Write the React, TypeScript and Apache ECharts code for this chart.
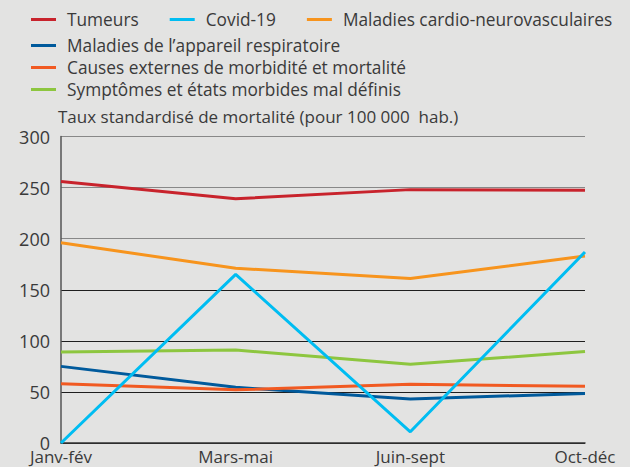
import React, { useEffect, useRef } from "react";
import * as echarts from "echarts";

const categories = ["Janv-fév", "Mars-mai", "Juin-sept", "Oct-déc"];
const seriesNames = [
  "Tumeurs",
  "Covid-19",
  "Maladies cardio-neurovasculaires",
  "Maladies de l’appareil respiratoire",
  "Causes externes de morbidité et mortalité",
  "Symptômes et états morbides mal définis",
];
const tumeurs = [256, 239, 248, 247.5];
const covid = [0, 165, 11, 187];
const cardio = [196, 171, 161, 183];
const respiratoire = [75, 54.5, 43, 48.5];
const causesExternes = [58, 52, 57.5, 55.5];
const symptomes = [89, 91, 77, 89.5];
const seriesValues = [tumeurs, covid, cardio, respiratoire, causesExternes, symptomes];
const colors = ["#c8232c", "#00bdf2", "#f7941d", "#005a9c", "#f15a22", "#8dc63f"];
const yAxisTitle = "Taux standardisé de mortalité (pour 100 000  hab.)";

const FONT = "'Open Sans', sans-serif";
const TEXT = "#3a3a3a";

export default function App() {
  const ref = useRef<HTMLDivElement>(null);
  useEffect(() => {
    if (!ref.current) return;
    const chart = echarts.init(ref.current, undefined, { renderer: "svg" });
    const legendBase = {
      orient: "horizontal" as const,
      left: 31,
      itemWidth: 25,
      itemHeight: 3,
      itemGap: 31,
      icon: "rect",
      textStyle: { fontFamily: FONT, fontSize: 17.3, color: TEXT, padding: [0, 0, 0, 6] },
      padding: 0,
    };
    chart.setOption({
      animation: false,
      backgroundColor: "#e3e3e2",
      textStyle: { fontFamily: FONT },
      legend: [
        { ...legendBase, top: 11, data: seriesNames.slice(0, 3) },
        { ...legendBase, top: 37, data: [seriesNames[3]] },
        { ...legendBase, top: 59, data: [seriesNames[4]] },
        { ...legendBase, top: 81, data: [seriesNames[5]] },
      ],
      graphic: [
        {
          type: "text",
          left: 58,
          top: 108,
          style: { text: yAxisTitle, fontFamily: FONT, fontSize: 17, fill: TEXT },
        },
      ],
      grid: { left: 61, right: 45, top: 136.5, bottom: 24, containLabel: false },
      xAxis: {
        type: "category",
        data: categories,
        boundaryGap: false,
        axisLine: { show: true, lineStyle: { color: "#333", width: 1.5 } },
        axisTick: { show: false },
        axisLabel: { fontFamily: FONT, fontSize: 17, color: TEXT, margin: 5, lineHeight: 17 },
        splitLine: { show: false },
      },
      yAxis: {
        type: "value",
        min: 0,
        max: 300,
        interval: 50,
        axisLine: { show: true, lineStyle: { color: "#555", width: 1.5 } },
        axisTick: { show: false },
        axisLabel: { fontFamily: FONT, fontSize: 18, color: TEXT, margin: 11, verticalAlign: "middle", lineHeight: 14, padding: [0, 0, 4, 0] },
        splitLine: {
          show: true,
          lineStyle: {
            color: ["#1e1e1e", "#1e1e1e", "#1e1e1e", "#1e1e1e", "#888", "#888", "#888"],
            width: 1.2,
          },
        },
      },
      series: seriesNames.map((name, i) => ({
        name,
        type: "line",
        data: seriesValues[i],
        symbol: "none",
        color: colors[i],
        lineStyle: { width: 3, color: colors[i] },
        z: i === 1 ? 3 : 2,
      })),
    });
    return () => chart.dispose();
  }, []);
  return <div ref={ref} style={{ width: 630, height: 467, position: "absolute", left: 0, top: 0 }} />;
}
